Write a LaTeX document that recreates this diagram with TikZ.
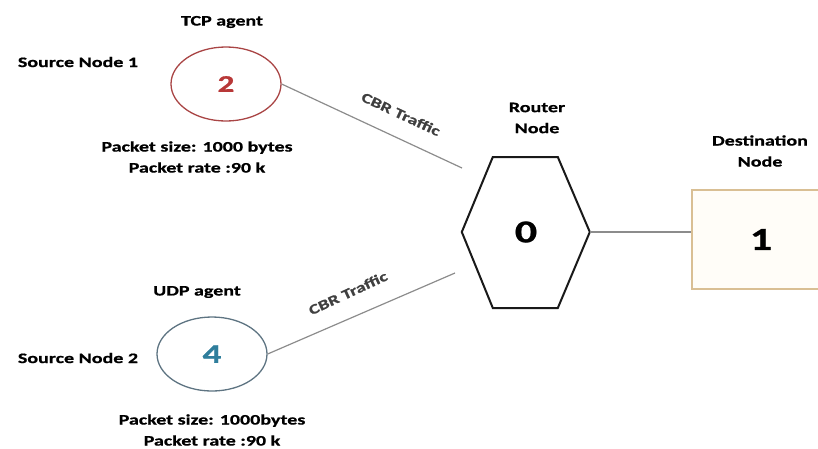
\documentclass[tikz,border=0pt]{standalone}
\usepackage{fontspec}
\setmainfont{Carlito}[FakeStretch=1.38, BoldFeatures={FakeBold=0.8}]
\usetikzlibrary{shapes.geometric,positioning}

\definecolor{tcpred}{HTML}{A94545}
\definecolor{tcpnum}{HTML}{B83838}
\definecolor{udpgray}{HTML}{5E7482}
\definecolor{udpnum}{HTML}{2F7E9C}
\definecolor{desttan}{HTML}{D9BF94}
\definecolor{destfill}{HTML}{FFFDF8}

\begin{document}
\begin{tikzpicture}[
    x=1pt, y=-1pt,
    font=\fontsize{14.5}{21}\selectfont\bfseries,
    caption/.style={align=center, inner sep=0pt},
    agent/.style={draw, ellipse, minimum width=110pt, minimum height=74pt, line width=1.3pt},
    traffic/.style={font=\fontsize{14}{16}\selectfont\bfseries, inner sep=0pt, text=black!75},
    link/.style={draw=black!45, line width=1.2pt},
    router/.style={draw=black!90, line width=2pt, line join=miter},
    destbox/.style={draw=desttan, fill=destfill, line width=2pt, minimum width=138pt, minimum height=99pt}
]
\useasboundingbox (0,0) rectangle (818,448);

% source node 1 (TCP)
\node[agent, draw=tcpred] (n2) at (226,84) {\fontsize{24}{24}\selectfont\color{tcpnum}2};
\node[caption] (tcp) at (222,22) {TCP agent};
\node[caption] (src1) at (78,62) {Source Node 1};
\node[caption] (info1) at (197,157) {Packet size: 1000 bytes\\Packet rate :90 k};

% source node 2 (UDP)
\node[agent, draw=udpgray] (n4) at (212,354) {\fontsize{27}{27}\selectfont\color{udpnum}4};
\node[caption] (udp) at (197,292) {UDP agent};
\node[caption] (src2) at (78,358) {Source Node 2};
\node[caption] (info2) at (212,430) {Packet size: 1000bytes\\Packet rate :90 k};

% router
\node[caption, minimum width=128pt, minimum height=151pt] (n0) at (526,232) {\fontsize{32}{32}\selectfont 0};
\draw[router] (n0.west) -- ++(31,-75) -- ++(65,0) -- ++(32,75) -- ++(-32,76) -- ++(-65,0) -- cycle;
\node[caption] (rtr) at (537,118) {Router\\Node};

% destination
\node[destbox] (n1) at (761,239.5) {\fontsize{32}{32}\selectfont 1};
\node[caption] (dst) at (760,151) {Destination\\Node};

% links
\coordinate (hin1) at (462,168);
\coordinate (hin2) at (455,273);
\draw[link] (n2.east) -- (hin1);
\draw[link] (n4.east) -- (hin2);
\draw[link] (n0.east) -- (n0.east -| n1.west);

\node[traffic, rotate=-25] (cbr1) at (401,114) {CBR Traffic};
\node[traffic, rotate=25] (cbr2) at (348,293) {CBR Traffic};
\end{tikzpicture}
\end{document}
